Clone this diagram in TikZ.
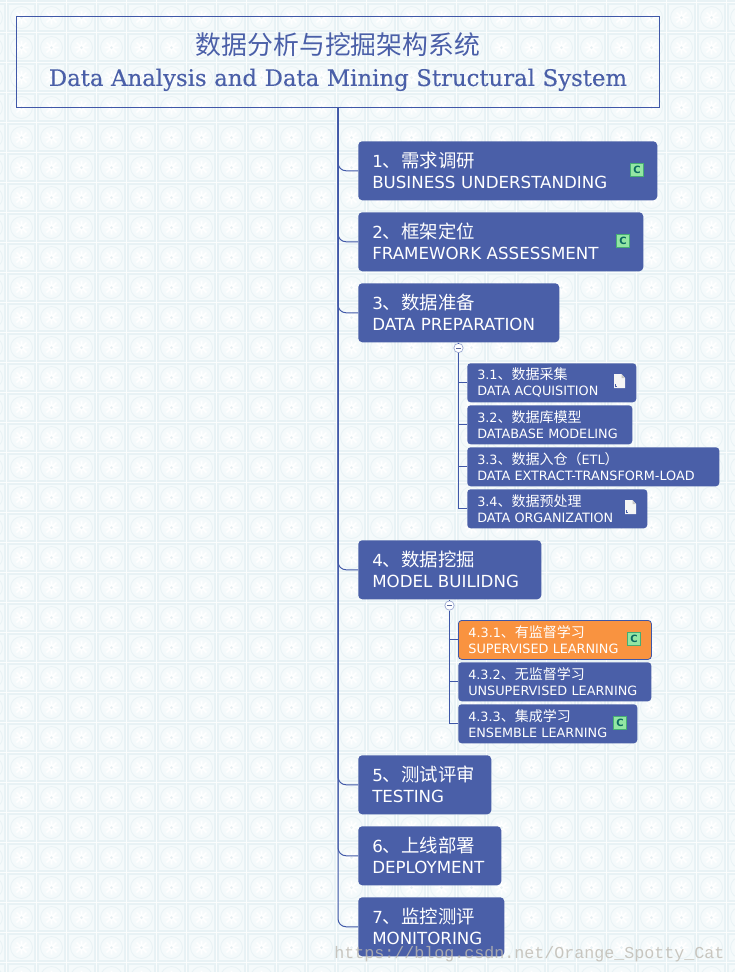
\documentclass[tikz,border=0pt]{standalone}
\usepackage{fontspec}
\usetikzlibrary{calc}
\setmainfont{DejaVu Sans}
\newfontfamily\cjk{Noto Sans CJK SC}
\newfontfamily\slab[FakeBold=0.25]{DejaVu Serif}
\newfontfamily\wmfont{Liberation Mono}
\definecolor{nodeblue}{HTML}{4A5FA8}
\definecolor{linkblue}{HTML}{4058A8}
\definecolor{orangebox}{HTML}{F99340}
\definecolor{bgpage}{HTML}{FBFDFD}
\definecolor{tileline}{HTML}{E8F2F5}
\definecolor{tilefill}{HTML}{F5FAFB}
\definecolor{cgreen}{HTML}{93E6A3}
\definecolor{cedge}{HTML}{45AD74}
\definecolor{cink}{HTML}{0B6A62}
\definecolor{wmgray}{HTML}{BDB9B0}
\newcommand\zh[1]{{\cjk\fontsize{\zhsize}{\zhlead}\selectfont #1}}
\tikzset{
  x=0.75pt,y=-0.75pt,
  conn/.style={draw=linkblue,line width=0.75pt},
  elbow/.style={conn,rounded corners=6pt},
  mainbox/.style={fill=nodeblue,rounded corners=3pt,anchor=north west,text=white,align=left,inner ysep=0pt,inner xsep=10.5pt,
    font=\def\zhsize{13.8}\def\zhlead{15.75}\fontsize{12.5}{15.75}\selectfont},
  subbox/.style={fill=nodeblue,rounded corners=2.5pt,anchor=north west,text=white,align=left,inner ysep=0pt,inner xsep=7.5pt,
    font=\def\zhsize{10.5}\def\zhlead{12}\fontsize{9.6}{12}\selectfont},
  orangesub/.style={subbox,fill=orangebox,draw=linkblue,line width=0.6pt},
  cicon/.style={fill=cgreen,draw=cedge,line width=0.6pt,minimum size=9.2pt,inner sep=0pt,text=cink,
    font=\fontsize{7.5}{7.5}\selectfont\bfseries},
  collapse/.style={circle,draw=linkblue!55,fill=white,line width=0.5pt,minimum size=7pt,inner sep=0pt},
  docicon/.style={fill=white!92!gray,draw=none},
  titlebox/.style={draw=linkblue,line width=0.75pt,anchor=north west,align=center,inner sep=0pt,text=nodeblue,
    font=\fontsize{17}{23.25}\selectfont},
}
% style, name, x, y, w, h, inset (pt), text
\newcommand\rawnode[8]{%
  \pgfmathsetmacro\tw{#5*0.75}\pgfmathsetmacro\th{#6*0.75}\pgfmathsetmacro\ttw{#5*0.75-2*#7}%
  \node[#1,text width=\ttw pt,minimum width=\tw pt,minimum height=\th pt] (#2) at (#3,#4) {#8};}
\newcommand\mainnode[5]{\rawnode{mainbox}{#1}{#2}{#3}{#4}{59}{10.5}{#5}}
\newcommand\subnode[5]{\rawnode{subbox}{#1}{#2}{#3}{#4}{39}{7.5}{#5}}
\newcommand\docmark[3]{%
  \node[inner sep=0pt,minimum size=0pt] (#1) at (#2,#3) {};
  \fill[docicon] (#2-5.5,#3-7) -- (#2+2,#3-7) -- (#2+5.5,#3-3) -- (#2+5.5,#3+7) -- (#2-5.5,#3+7) -- cycle;
  \fill[gray!45] (#2+2,#3-7) -- (#2+5.5,#3-3) -- (#2+2,#3-3) -- cycle;
  \draw[nodeblue,line width=0.5pt] (#2-4.5,#3+3) -- (#2-4.5,#3+5.5) -- (#2-2.5,#3+5.5);}
\begin{document}
\begin{tikzpicture}
\useasboundingbox (0,0) rectangle (735,972);
\fill[bgpage] (0,0) rectangle (735,972);
% tiled background
\begin{scope}
\clip (0,0) rectangle (735,972);
\foreach \i in {-1,...,24}{\foreach \j in {-1,...,32}{
  \pgfmathsetmacro\xa{8+30*\i}\pgfmathsetmacro\ya{4+30*\j}
  \pgfmathsetmacro\xc{\xa+13.5}\pgfmathsetmacro\yc{\ya+13.5}
  \fill[tilefill] (\xa,\ya) rectangle ++(27,27);
  \draw[tileline,line width=0.8pt] (\xa,\ya) rectangle ++(27,27);
  \draw[tileline,line width=0.6pt] (\xc,\yc) circle[radius=11];
  \draw[white,line width=1.3pt] (\xc-7,\yc) -- (\xc+7,\yc) (\xc,\yc-7) -- (\xc,\yc+7)
     (\xc-5,\yc-5) -- (\xc+5,\yc+5) (\xc-5,\yc+5) -- (\xc+5,\yc-5);
  \fill[tileline] (\xc,\yc) circle[radius=1.5];
}}
\end{scope}
% title
\rawnode{titlebox}{title}{16}{16}{643}{91}{0}{%
  {\cjk\fontsize{19.4}{23.25}\selectfont 数据分析与挖掘架构系统}\\
  {\slab\fontsize{17.1}{23.25}\selectfont Data Analysis and Data Mining Structural System}}
% main nodes
\mainnode{n1}{358}{141}{299}{1\zh{、需求调研}\\BUSINESS UNDERSTANDING}
\mainnode{n2}{358}{212}{285}{2\zh{、框架定位}\\FRAMEWORK ASSESSMENT}
\mainnode{n3}{358}{283}{201}{3\zh{、数据准备}\\DATA PREPARATION}
\mainnode{n4}{358}{540}{183}{4\zh{、数据挖掘}\\MODEL BUILIDNG}
\mainnode{n5}{358}{755}{133}{5\zh{、测试评审}\\TESTING}
\mainnode{n6}{358}{826}{143}{6\zh{、上线部署}\\DEPLOYMENT}
\mainnode{n7}{358}{897}{146}{7\zh{、监控测评}\\MONITORING}
% sub nodes
\subnode{s31}{467}{363}{169}{3.1\zh{、数据采集}\\DATA ACQUISITION}
\subnode{s32}{467}{405}{165}{3.2\zh{、数据库模型}\\DATABASE MODELING}
\subnode{s33}{467}{447}{252}{3.3\zh{、数据入仓（}ETL\zh{）}\\DATA EXTRACT-TRANSFORM-LOAD}
\subnode{s34}{467}{489}{180}{3.4\zh{、数据预处理}\\DATA ORGANIZATION}
\rawnode{orangesub}{s41}{458}{620}{193}{39}{7.5}{4.3.1\zh{、有监督学习}\\SUPERVISED LEARNING}
\subnode{s42}{458}{662}{193}{4.3.2\zh{、无监督学习}\\UNSUPERVISED LEARNING}
\subnode{s43}{458}{704}{179}{4.3.3\zh{、集成学习}\\ENSEMBLE LEARNING}
% collapse markers
\node[collapse] (c3) at (458.5,348) {};
\node[collapse] (c4) at (449.5,605.5) {};
% connectors
\foreach \n in {n1,n2,n3,n4,n5,n6,n7}{\draw[elbow] (title.south) |- (\n.west);}
\draw[conn] (c3 |- n3.south) -- (c3.north);
\draw[conn] (c4 |- n4.south) -- (c4.north);
\foreach \n in {s31,s32,s33,s34}{\draw[conn] (c3.south) |- (\n.west);}
\foreach \n in {s41,s42,s43}{\draw[conn] (c4.south) |- (\n.west);}
\draw[nodeblue!70!gray,line width=0.7pt] ($(c3.center)+(-2.5,0)$) -- ($(c3.center)+(2.5,0)$);
\draw[nodeblue!70!gray,line width=0.7pt] ($(c4.center)+(-2.5,0)$) -- ($(c4.center)+(2.5,0)$);
% icons
\node[cicon] (i1) at (637,170) {C};
\node[cicon] (i2) at (623,241) {C};
\node[cicon] (i3) at (634,639) {C};
\node[cicon] (i4) at (620,723) {C};
\docmark{d1}{619.5}{381}
\docmark{d2}{630.5}{507}
% watermark
\node[anchor=base west,inner sep=0pt,text=wmgray,opacity=.8,font=\wmfont\fontsize{12.5}{12.5}\selectfont] (wm) at (334,958) {https://blog.csdn.net/Orange\_Spotty\_Cat};
\end{tikzpicture}
\end{document}
